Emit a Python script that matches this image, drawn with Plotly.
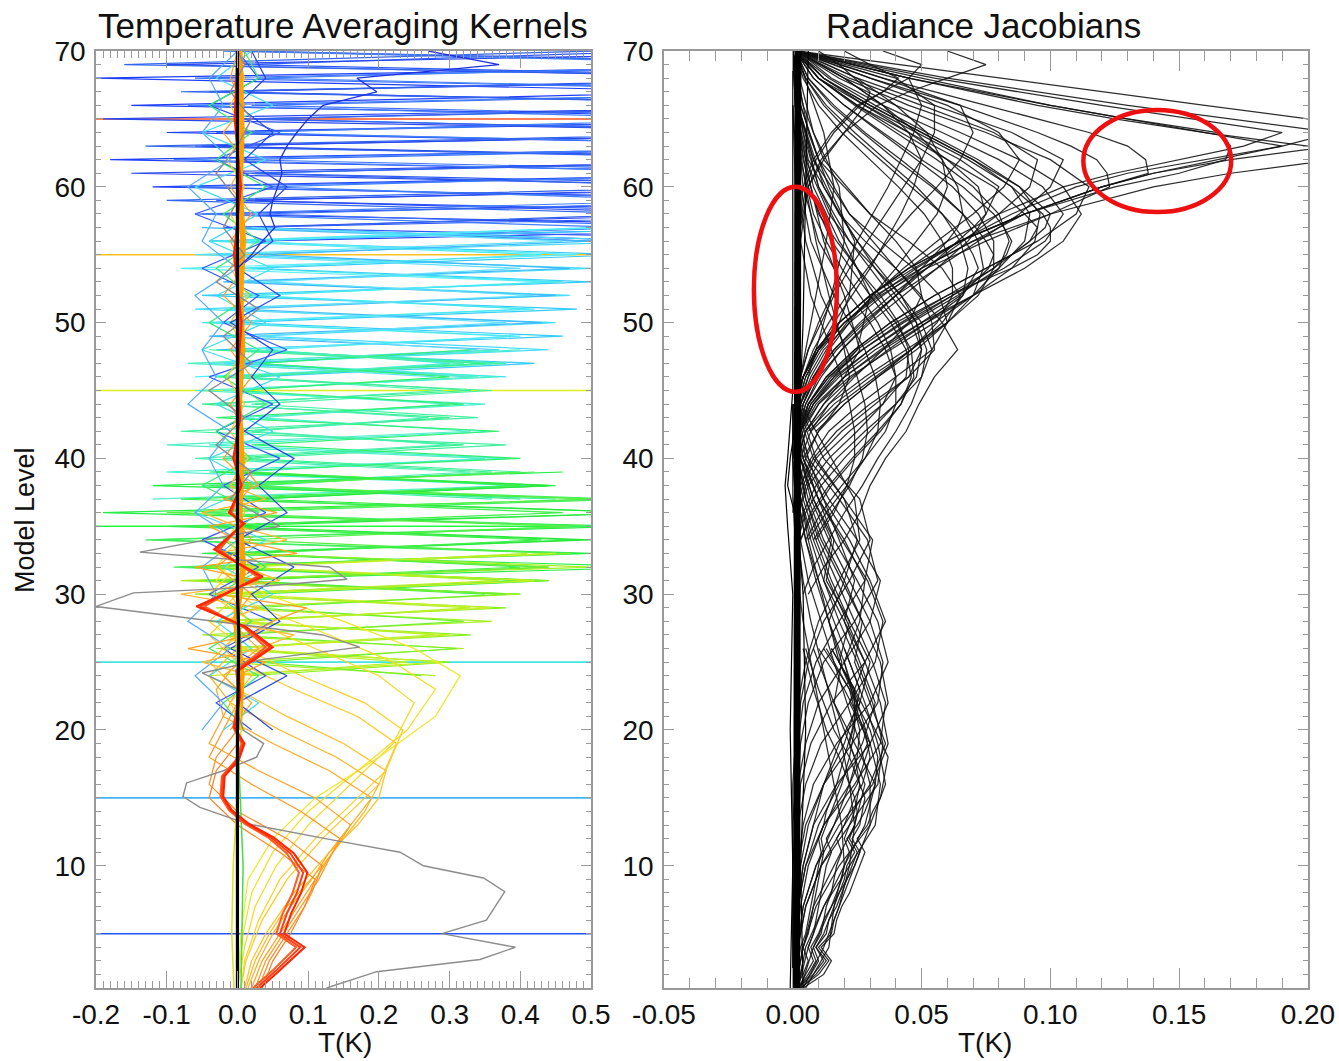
import plotly.graph_objects as go

# ---------------- axis definitions ----------------
LEFT_XRANGE = [-0.2, 0.5]
RIGHT_XRANGE = [-0.05, 0.2]
YRANGE = [1, 70]
left_xticks = [-0.2, -0.1, 0.0, 0.1, 0.2, 0.3, 0.4, 0.5]
left_xticklabels = ["-0.2", "-0.1", "0.0", "0.1", "0.2", "0.3", "0.4", "0.5"]
right_xticks = [-0.05, 0.0, 0.05, 0.10, 0.15, 0.20]
right_xticklabels = ["-0.05", "0.00", "0.05", "0.10", "0.15", "0.20"]
yticks = [10, 20, 30, 40, 50, 60, 70]
yticklabels = ["10", "20", "30", "40", "50", "60", "70"]

# ---------------- LEFT: temperature averaging kernels ----------------
hline_levels = [65, 55, 45, 35, 25, 15, 5]
hline_colors = ["#ff5420", "#ffc21e", "#dcf01e", "#1eff3c", "#40e6e0", "#40b4ff", "#2454ff"]

blue_levels = [56, 57, 58, 59, 60, 61, 62, 63, 64, 65, 66, 67, 68, 69, 70]
blue_colors = ["#1f3fff", "#2d5bff", "#3a70ff", "#2848f0", "#4080ff", "#3366ee"]
blue_x = [
    [0.02, 0.9, -0.05, 0.9, -0.12, 0.8, -0.18, 0.9, -0.1, 0.9, -0.15, 0.7, -0.2, 0.9, 0.0],
    [0.9, 0.0, 0.9, -0.03, 0.9, 0.02, 0.8, -0.06, 0.9, 0.0, 0.9, -0.04, 0.9, 0.01, 0.6],
    [-0.04, 0.7, 0.03, 0.8, -0.08, 0.9, 0.0, 0.9, -0.03, 0.9, 0.02, 0.9, -0.06, 0.9, 0.02],
    [0.6, -0.02, 0.7, 0.01, 0.8, -0.15, 0.9, -0.05, 0.9, -0.19, 0.9, -0.03, 0.8, -0.1, 0.9],
    [0.03, 0.55, -0.06, 0.65, 0.04, 0.75, -0.09, 0.85, 0.0, 0.7, -0.07, 0.9, 0.03, 0.8, -0.02],
    [0.5, 0.02, 0.6, -0.1, 0.7, 0.0, 0.9, -0.13, 0.8, 0.03, 0.9, -0.08, 0.9, -0.16, 0.5],
]

cyan_levels = [46, 47, 48, 49, 50, 51, 52, 53, 54, 55, 56, 57]
cyan_colors = ["#33ccff", "#44ddff", "#55eeff", "#3fb8ff", "#4ae8f0", "#60e0ff"]
cyan_x = [
    [0.02, 0.42, -0.03, 0.46, 0.0, 0.48, -0.05, 0.5, 0.02, 0.55, -0.02, 0.7],
    [0.38, -0.02, 0.44, 0.03, 0.45, -0.06, 0.47, 0.01, 0.5, -0.03, 0.6, 0.0],
    [-0.06, 0.36, 0.0, 0.4, -0.03, 0.42, 0.02, 0.44, -0.08, 0.48, 0.0, 0.52],
    [0.33, 0.01, 0.37, -0.04, 0.43, 0.0, 0.45, -0.02, 0.47, 0.03, 0.5, -0.05],
    [0.0, 0.3, 0.04, 0.39, -0.05, 0.41, 0.01, 0.46, 0.0, 0.43, -0.04, 0.5],
    [0.28, -0.04, 0.34, 0.02, 0.38, -0.02, 0.42, 0.04, 0.4, -0.06, 0.46, 0.02],
]

teal_levels = [37, 38, 39, 40, 41, 42, 43, 44, 45, 46, 47, 48]
teal_colors = ["#44f0d0", "#40f0a0", "#50f0c8", "#38f090", "#30f070", "#48f0b0"]
teal_x = [
    [0.02, 0.42, -0.1, 0.38, -0.04, 0.36, 0.0, 0.35, -0.06, 0.37, 0.02, 0.4],
    [0.45, -0.05, 0.4, 0.01, 0.38, -0.08, 0.34, 0.02, 0.36, -0.03, 0.38, 0.0],
    [-0.12, 0.39, 0.0, 0.35, -0.1, 0.33, 0.03, 0.3, -0.02, 0.34, -0.07, 0.37],
    [0.4, 0.03, 0.36, -0.02, 0.32, 0.0, 0.3, -0.05, 0.33, 0.01, 0.35, -0.04],
    [0.0, 0.44, -0.04, 0.4, 0.02, 0.37, -0.03, 0.32, 0.0, 0.3, 0.03, 0.33],
    [0.36, -0.02, 0.33, -0.06, 0.3, 0.02, 0.27, -0.03, 0.29, 0.0, 0.32, 0.03],
]

green_levels = [30, 31, 32, 33, 34, 35, 36, 37, 38, 39]
green_colors = ["#22ee44", "#33f050", "#44f060", "#2ae83a", "#55f040", "#3cf048"]
green_x = [
    [0.02, 0.44, -0.08, 0.5, -0.12, 0.55, -0.19, 0.52, -0.12, 0.46],
    [0.4, -0.06, 0.6, -0.05, 0.48, -0.1, 0.6, -0.08, 0.45, 0.0],
    [-0.03, 0.42, -0.09, 0.47, -0.13, 0.5, -0.05, 0.55, -0.04, 0.42],
    [0.38, 0.0, 0.44, -0.02, 0.5, -0.03, 0.58, 0.02, 0.44, -0.03],
    [0.0, 0.4, -0.05, 0.45, 0.01, 0.47, -0.1, 0.5, 0.0, 0.4],
    [0.35, -0.04, 0.4, 0.02, 0.43, -0.06, 0.46, -0.02, 0.4, 0.02],
]

ygreen_levels = [24, 25, 26, 27, 28, 29, 30, 31, 32, 33]
ygreen_colors = ["#88f020", "#a8f020", "#c8f020", "#70f030", "#b8f028"]
ygreen_x = [
    [0.02, 0.3, -0.03, 0.33, -0.04, 0.38, -0.06, 0.44, -0.04, 0.47],
    [0.28, -0.02, 0.32, -0.05, 0.36, -0.03, 0.4, -0.08, 0.5, 0.0],
    [-0.04, 0.29, 0.0, 0.3, -0.02, 0.36, 0.0, 0.42, 0.01, 0.45],
    [0.26, 0.03, 0.31, -0.01, 0.32, 0.02, 0.38, -0.02, 0.44, 0.02],
    [0.0, 0.24, -0.02, 0.28, 0.01, 0.33, -0.04, 0.37, 0.0, 0.41],
]

bump_colors = ["#f0e81e", "#f4e01e", "#f8d820", "#ffd020", "#ffc820", "#ffc020",
               "#ffb420", "#ffaa20", "#ffa020", "#ff9820", "#ff8c20", "#ff8020"]
bump_levels = [
    [1, 5, 9, 12, 15, 18, 21, 24, 26, 28, 30, 32, 34],
    [1, 5, 8, 11, 14, 17, 20, 23, 25, 27, 29, 31, 33],
    [1, 4, 7, 10, 13, 16, 19, 22, 24, 26, 28, 30, 32],
    [1, 3, 6, 9, 12, 15, 17, 20, 22, 24, 26, 28, 30],
    [1, 3, 6, 9, 12, 14, 16, 19, 21, 23, 25, 27, 29],
    [1, 3, 5, 8, 11, 13, 15, 17, 19, 21, 23, 25, 27],
    [1, 3, 5, 7, 10, 12, 14, 16, 18, 20, 22, 24, 26],
    [1, 3, 5, 7, 9, 11, 13, 15, 17, 19, 21, 23, 25],
    [1, 3, 5, 7, 9, 11, 13, 15, 17, 19, 21, 23],
    [1, 3, 5, 7, 9, 10, 12, 14, 16, 18, 20, 22],
    [1, 3, 5, 7, 8, 10, 12, 14, 16, 18, 20],
    [1, 3, 5, 7, 9, 11, 13, 15, 17, 19],
]
bump_x = [
    [0.0, 0.005, 0.015, 0.05, 0.11, 0.2, 0.28, 0.315, 0.25, 0.15, 0.04, -0.03, 0.0],
    [0.0, 0.008, 0.02, 0.05, 0.1, 0.17, 0.24, 0.28, 0.22, 0.13, 0.03, -0.03, 0.0],
    [0.0, 0.01, 0.025, 0.055, 0.1, 0.16, 0.22, 0.25, 0.2, 0.11, 0.02, -0.04, 0.0],
    [0.005, 0.01, 0.03, 0.06, 0.11, 0.17, 0.21, 0.234, 0.18, 0.09, 0.01, -0.04, 0.0],
    [0.005, 0.012, 0.035, 0.07, 0.12, 0.16, 0.2, 0.225, 0.17, 0.08, 0.0, -0.04, 0.0],
    [0.01, 0.02, 0.04, 0.08, 0.13, 0.17, 0.2, 0.21, 0.15, 0.07, 0.0, -0.04, 0.0],
    [0.012, 0.025, 0.045, 0.07, 0.12, 0.15, 0.18, 0.2, 0.14, 0.06, -0.01, -0.04, 0.0],
    [0.015, 0.03, 0.05, 0.075, 0.105, 0.13, 0.16, 0.19, 0.13, 0.05, -0.02, -0.03, 0.0],
    [0.02, 0.035, 0.06, 0.085, 0.11, 0.135, 0.16, 0.11, 0.03, -0.04, -0.02, 0.0],
    [0.025, 0.04, 0.065, 0.09, 0.115, 0.125, 0.145, 0.09, 0.02, -0.04, -0.02, 0.0],
    [0.03, 0.045, 0.07, 0.095, 0.105, 0.12, 0.07, 0.0, -0.04, -0.03, 0.0],
    [0.035, 0.05, 0.075, 0.095, 0.11, 0.06, 0.0, -0.04, -0.03, 0.0],
]

core_levels = [20, 22, 24, 26, 28, 30, 32, 34, 36, 38, 40, 42, 44, 46, 48, 50, 52,
               54, 56, 58, 60, 62, 64, 66, 68, 70]
core_colors = ["#3355ff", "#44ddee", "#33ee66", "#ffa020", "#ffd020", "#2244ee", "#55aaff"]
core_x = [
    [0.02, -0.03, 0.04, -0.02, 0.05, -0.04, 0.03, -0.05, 0.04, -0.02, 0.06, -0.03, 0.05,
     -0.04, 0.07, -0.02, 0.03, -0.05, 0.04, -0.06, 0.05, -0.03, 0.06, -0.04, 0.03, 0.0],
    [-0.02, 0.03, -0.04, 0.02, -0.03, 0.05, -0.02, 0.04, -0.06, 0.03, -0.04, 0.05, -0.03,
     0.06, -0.05, 0.04, -0.03, 0.05, -0.04, 0.03, -0.06, 0.04, -0.05, 0.05, -0.03, 0.02],
    [0.01, -0.02, 0.03, -0.04, 0.02, -0.03, 0.04, -0.02, 0.03, -0.05, 0.02, -0.03, 0.04,
     -0.02, 0.03, -0.04, 0.02, -0.03, 0.03, -0.02, 0.04, -0.03, 0.02, -0.04, 0.03, 0.01],
    [-0.01, 0.02, -0.02, 0.03, -0.01, 0.02, -0.03, 0.02, -0.01, 0.02, -0.02, 0.01, -0.01,
     0.02, -0.01, 0.02, -0.02, 0.01, -0.01, 0.02, -0.01, 0.01, -0.02, 0.01, -0.01, 0.0],
    [0.01, -0.01, 0.02, -0.02, 0.015, -0.01, 0.02, -0.015, 0.01, -0.01, 0.015, -0.01, 0.01,
     -0.015, 0.01, -0.01, 0.015, -0.01, 0.01, -0.01, 0.01, -0.015, 0.01, -0.01, 0.01, 0.0],
    [0.05, 0.0, 0.07, -0.01, 0.06, 0.02, 0.08, 0.0, 0.07, 0.03, 0.08, 0.01, 0.06, 0.02,
     0.05, -0.01, 0.06, 0.0, 0.05, 0.03, 0.07, 0.01, 0.05, 0.0, 0.04, 0.02],
    [-0.05, -0.02, -0.06, -0.01, -0.07, -0.03, -0.05, 0.0, -0.06, -0.02, -0.04, -0.01, -0.07,
     -0.03, -0.05, -0.02, -0.06, 0.0, -0.05, -0.03, -0.07, -0.01, -0.05, -0.02, -0.04, 0.0],
]

# fat orange band hugging the centre line
band_levels = [20, 24, 28, 32, 36, 40, 44, 48, 52, 56, 60, 64, 68, 70]
band_x = [0.002, 0.006, -0.002, 0.008, 0.003, 0.006, 0.002, 0.007, 0.004, 0.008, 0.003, 0.006, 0.004, 0.003]

orange_zz_levels = [24, 25, 26, 27, 28, 29, 30, 31, 32, 33, 34, 35, 36, 37, 38, 40]
orange_zz_colors = ["#ffa020", "#ffb830"]
orange_zz_x = [
    [0.0, 0.04, -0.07, 0.02, 0.05, 0.098, -0.03, 0.03, -0.06, 0.084, 0.0, -0.04, 0.056, -0.02, 0.03, 0.0],
    [0.02, -0.05, 0.03, 0.08, -0.02, 0.03, -0.08, 0.06, 0.01, -0.03, 0.07, 0.0, -0.05, 0.04, -0.01, 0.01],
]

dkblue_levels = [54, 55, 56, 57, 58, 59, 60, 61, 62, 63, 64, 65, 66, 67, 68, 69, 70]
dkblue_x = [0.0, 0.02, 0.035, 0.053, 0.046, 0.05, 0.057, 0.063, 0.06, 0.07, 0.084, 0.1,
            0.121, 0.197, 0.169, 0.37, 0.27]

nearzero_levels = [1, 5, 10, 15, 20, 25, 30]
nearzero_colors = ["#e0e020", "#40e040"]
nearzero_x = [
    [-0.005, -0.008, -0.006, 0.0, 0.005, 0.0, 0.0],
    [0.005, 0.006, 0.008, 0.004, 0.0, 0.0, 0.0],
]

gray_levels = [1, 2.2, 3.1, 4, 5, 6, 8.1, 9.1, 10, 11, 11.8, 13.1, 14.3, 15.1, 16.1, 17, 18,
               19, 20, 21.5, 23, 24.2, 25.2, 26.1, 27, 27.6, 29.1, 30.1, 30.5, 31.1, 32,
               33.1, 35, 37, 39, 41, 43, 45, 47, 49, 51, 53, 55, 57, 59, 61, 63, 65, 67, 69, 70]
gray_x = [0.126, 0.197, 0.343, 0.393, 0.289, 0.352, 0.378, 0.348, 0.263, 0.23, 0.145,
          0.013, -0.053, -0.077, -0.072, -0.02, 0.027, 0.037, 0.008, -0.001, 0.0, -0.05,
          0.036, 0.173, 0.121, 0.027, -0.2, -0.147, 0.017, 0.155, 0.13, -0.138, 0.06,
          -0.01, 0.02, -0.03, 0.01, -0.04, 0.02, -0.02, 0.03, -0.03, 0.01, -0.02, 0.0,
          -0.03, 0.0, 0.02, -0.01, 0.01, 0.0]

red_levels = [1, 2.3, 4, 5, 6.5, 8, 9.5, 10.9, 12.1, 13.1, 14.1, 15.1, 16.6, 17.8, 19, 20.2,
              22.5, 24.4, 26.1, 27.6, 29.1, 30.2, 31.3, 32.3, 33.3, 35.2, 36, 38, 40, 43, 46,
              50, 55, 60, 65, 70]
red_colors = ["#ff5a20", "#ff3c12", "#ff2200"]
red_x = [
    [0.022, 0.05, 0.083, 0.055, 0.064, 0.078, 0.087, 0.07, 0.043, 0.01, -0.012, -0.024,
     -0.022, -0.002, 0.006, -0.006, 0.002, -0.002, 0.04, 0.008, -0.047, -0.01, 0.028, 0.0,
     -0.025, 0.006, -0.008, 0.004, -0.004, 0.002, 0.0, 0.004, -0.003, 0.003, -0.002, 0.0],
    [0.027, 0.055, 0.089, 0.06, 0.07, 0.084, 0.093, 0.075, 0.047, 0.013, -0.01, -0.022,
     -0.02, 0.0, 0.008, -0.005, 0.003, 0.0, 0.046, 0.01, -0.053, -0.01, 0.032, 0.0, -0.029,
     0.008, -0.01, 0.005, -0.005, 0.003, 0.0, 0.005, -0.004, 0.004, -0.003, 0.0],
    [0.032, 0.06, 0.095, 0.066, 0.076, 0.09, 0.099, 0.08, 0.051, 0.016, -0.008, -0.02,
     -0.018, 0.002, 0.01, -0.004, 0.004, 0.002, 0.05, 0.012, -0.058, -0.01, 0.036, 0.0,
     -0.033, 0.01, -0.012, 0.006, -0.006, 0.004, 0.0, 0.006, -0.005, 0.005, -0.004, 0.0],
]

black_levels = [1, 10, 20, 27, 30, 40, 50, 60, 70]
black_x = [0.0, 0.0, 0.0, 0.002, 0.0, 0.0, 0.0, 0.0, 0.0]

# ---------------- RIGHT: radiance jacobians ----------------
jac_top_levels = [70, 68, 66, 65, 64, 63, 62, 61, 60, 58, 56, 54, 52, 50, 48, 46, 44]
jac_top = [
    [0.002, 0.08, 0.16, 0.2, 0.23, 0.21, 0.17, 0.14, 0.12, 0.09, 0.07, 0.05, 0.035, 0.022, 0.012, 0.006, 0.002],
    [0.002, 0.06, 0.13, 0.17, 0.21, 0.19, 0.16, 0.13, 0.11, 0.085, 0.065, 0.048, 0.033, 0.02, 0.011, 0.005, 0.002],
    [0.002, 0.055, 0.12, 0.155, 0.19, 0.175, 0.15, 0.125, 0.105, 0.08, 0.06, 0.045, 0.03, 0.018, 0.01, 0.004, 0.002],
    [0.002, 0.05, 0.1, 0.13, 0.16, 0.19, 0.165, 0.14, 0.12, 0.09, 0.065, 0.045, 0.03, 0.018, 0.009, 0.004, 0.001],
    [0.002, 0.045, 0.095, 0.125, 0.16, 0.2, 0.21, 0.17, 0.14, 0.1, 0.07, 0.05, 0.032, 0.02, 0.01, 0.004, 0.001],
    [0.002, 0.045, 0.1, 0.13, 0.165, 0.17, 0.168, 0.15, 0.125, 0.09, 0.065, 0.045, 0.03, 0.018, 0.009, 0.004, 0.001],
    [0.002, 0.035, 0.075, 0.095, 0.115, 0.13, 0.137, 0.138, 0.12, 0.09, 0.065, 0.047, 0.03, 0.018, 0.009, 0.004, 0.001],
    [0.002, 0.03, 0.065, 0.08, 0.095, 0.108, 0.118, 0.122, 0.123, 0.1, 0.075, 0.052, 0.034, 0.02, 0.01, 0.004, 0.001],
]

jac_mid_levels = [70, 68, 66, 64, 62, 60, 58, 57, 56, 55, 54, 52, 50, 48, 46, 44, 42, 40]
jac_mid = [
    [0.001, 0.012, 0.03, 0.05, 0.07, 0.088, 0.1, 0.098, 0.092, 0.085, 0.075, 0.055, 0.038, 0.024, 0.013, 0.006, 0.003, 0.001],
    [0.001, 0.01, 0.025, 0.042, 0.06, 0.078, 0.09, 0.095, 0.092, 0.085, 0.078, 0.06, 0.042, 0.027, 0.015, 0.007, 0.003, 0.001],
    [0.001, 0.008, 0.02, 0.035, 0.05, 0.066, 0.078, 0.082, 0.085, 0.083, 0.078, 0.062, 0.045, 0.03, 0.017, 0.008, 0.003, 0.001],
    [0.001, 0.01, 0.025, 0.045, 0.065, 0.08, 0.075, 0.07, 0.064, 0.058, 0.052, 0.04, 0.028, 0.017, 0.009, 0.004, 0.002, 0.001],
    [0.001, 0.012, 0.028, 0.045, 0.06, 0.072, 0.075, 0.072, 0.068, 0.062, 0.056, 0.043, 0.03, 0.019, 0.01, 0.005, 0.002, 0.001],
    [0.001, 0.006, 0.015, 0.027, 0.04, 0.054, 0.066, 0.071, 0.075, 0.078, 0.076, 0.065, 0.05, 0.034, 0.02, 0.01, 0.004, 0.001],
    [0.001, 0.005, 0.012, 0.022, 0.034, 0.046, 0.058, 0.063, 0.067, 0.07, 0.072, 0.066, 0.052, 0.037, 0.023, 0.012, 0.005, 0.002],
    [0.001, 0.02, 0.035, 0.048, 0.058, 0.064, 0.066, 0.064, 0.06, 0.055, 0.05, 0.04, 0.029, 0.019, 0.011, 0.005, 0.002, 0.001],
    [0.001, 0.025, 0.04, 0.052, 0.058, 0.06, 0.056, 0.052, 0.048, 0.044, 0.04, 0.031, 0.022, 0.014, 0.008, 0.004, 0.002, 0.001],
    [0.001, 0.02, 0.035, 0.045, 0.05, 0.047, 0.042, 0.039, 0.036, 0.033, 0.03, 0.023, 0.016, 0.01, 0.005, 0.002, 0.001, 0.0],
    [0.001, 0.01, 0.028, 0.048, 0.068, 0.085, 0.097, 0.1, 0.1, 0.095, 0.085, 0.06, 0.04, 0.025, 0.014, 0.006, 0.003, 0.001],
]

jac_fan_levels = [70, 68, 66, 64, 62, 60, 58, 56, 54, 52, 50, 48, 46, 44, 42]
jac_fan = [
    [0.002, 0.02, 0.045, 0.075, 0.1, 0.115, 0.11, 0.095, 0.075, 0.055, 0.038, 0.024, 0.013, 0.006, 0.002],
    [0.002, 0.025, 0.055, 0.085, 0.105, 0.1, 0.088, 0.072, 0.056, 0.04, 0.027, 0.016, 0.008, 0.003, 0.001],
    [0.002, 0.015, 0.035, 0.058, 0.08, 0.097, 0.105, 0.098, 0.082, 0.062, 0.043, 0.027, 0.014, 0.006, 0.002],
    [0.002, 0.012, 0.03, 0.05, 0.07, 0.085, 0.092, 0.09, 0.08, 0.064, 0.046, 0.03, 0.016, 0.007, 0.002],
    [0.001, 0.03, 0.06, 0.08, 0.088, 0.082, 0.07, 0.056, 0.043, 0.031, 0.021, 0.013, 0.007, 0.003, 0.001],
    [0.001, 0.035, 0.065, 0.07, 0.065, 0.056, 0.046, 0.037, 0.029, 0.021, 0.014, 0.008, 0.004, 0.002, 0.001],
    [0.001, 0.04, 0.055, 0.055, 0.05, 0.043, 0.036, 0.029, 0.022, 0.016, 0.011, 0.006, 0.003, 0.001, 0.0],
    [0.001, 0.01, 0.024, 0.04, 0.056, 0.07, 0.08, 0.084, 0.08, 0.07, 0.055, 0.038, 0.022, 0.01, 0.003],
    [0.001, 0.008, 0.02, 0.034, 0.048, 0.062, 0.072, 0.078, 0.078, 0.072, 0.06, 0.044, 0.028, 0.014, 0.005],
    [0.001, 0.006, 0.016, 0.028, 0.042, 0.055, 0.066, 0.072, 0.074, 0.07, 0.06, 0.046, 0.03, 0.016, 0.006],
    [0.001, 0.005, 0.013, 0.024, 0.036, 0.048, 0.058, 0.065, 0.068, 0.066, 0.058, 0.046, 0.032, 0.018, 0.007],
    [0.001, 0.004, 0.01, 0.019, 0.03, 0.041, 0.051, 0.058, 0.062, 0.062, 0.056, 0.046, 0.033, 0.02, 0.009],
    [0.001, 0.018, 0.04, 0.065, 0.088, 0.105, 0.112, 0.105, 0.09, 0.07, 0.05, 0.032, 0.018, 0.008, 0.002],
    [0.001, 0.022, 0.05, 0.078, 0.095, 0.092, 0.08, 0.066, 0.052, 0.038, 0.026, 0.016, 0.008, 0.003, 0.001],
    [0.001, 0.014, 0.032, 0.052, 0.072, 0.088, 0.096, 0.094, 0.085, 0.07, 0.052, 0.035, 0.02, 0.009, 0.003],
    [0.001, 0.045, 0.05, 0.047, 0.042, 0.037, 0.031, 0.025, 0.02, 0.015, 0.01, 0.006, 0.003, 0.001, 0.0],
]

jac_low_levels = [70, 66, 62, 58, 56, 54, 52, 50, 48, 46, 44, 42, 40, 38, 36]
jac_low = [
    [0.0, 0.003, 0.01, 0.03, 0.045, 0.058, 0.065, 0.06, 0.048, 0.033, 0.02, 0.01, 0.005, 0.002, 0.001],
    [0.0, 0.002, 0.008, 0.022, 0.034, 0.047, 0.057, 0.06, 0.054, 0.04, 0.026, 0.014, 0.007, 0.003, 0.001],
    [0.0, 0.002, 0.006, 0.018, 0.028, 0.04, 0.05, 0.054, 0.055, 0.045, 0.03, 0.017, 0.008, 0.003, 0.001],
    [0.0, 0.001, 0.005, 0.014, 0.022, 0.032, 0.042, 0.048, 0.05, 0.045, 0.032, 0.019, 0.009, 0.004, 0.001],
    [0.0, 0.001, 0.004, 0.01, 0.017, 0.025, 0.034, 0.041, 0.045, 0.044, 0.035, 0.022, 0.011, 0.005, 0.002],
    [0.0, 0.004, 0.012, 0.03, 0.04, 0.048, 0.05, 0.045, 0.035, 0.024, 0.014, 0.007, 0.003, 0.001, 0.0],
    [0.0, 0.001, 0.003, 0.008, 0.013, 0.019, 0.026, 0.033, 0.038, 0.04, 0.035, 0.025, 0.014, 0.006, 0.002],
]

jac_low2_levels = [66, 60, 56, 52, 50, 48, 46, 44, 42, 40, 38, 36, 34]
jac_low2 = [
    [0.001, 0.006, 0.015, 0.03, 0.038, 0.044, 0.046, 0.042, 0.034, 0.024, 0.015, 0.008, 0.003],
    [0.001, 0.004, 0.01, 0.022, 0.03, 0.036, 0.04, 0.04, 0.036, 0.028, 0.019, 0.011, 0.005],
    [0.001, 0.003, 0.007, 0.016, 0.022, 0.028, 0.032, 0.034, 0.033, 0.028, 0.021, 0.013, 0.006],
    [0.0, 0.002, 0.005, 0.011, 0.016, 0.021, 0.025, 0.028, 0.029, 0.027, 0.022, 0.015, 0.008],
    [0.0, 0.001, 0.003, 0.007, 0.011, 0.015, 0.019, 0.022, 0.024, 0.024, 0.021, 0.016, 0.009],
    [0.002, 0.012, 0.025, 0.042, 0.05, 0.054, 0.05, 0.04, 0.028, 0.017, 0.009, 0.004, 0.002],
    [0.002, 0.01, 0.022, 0.038, 0.046, 0.05, 0.048, 0.04, 0.03, 0.02, 0.011, 0.005, 0.002],
    [0.001, 0.008, 0.018, 0.032, 0.04, 0.046, 0.047, 0.042, 0.033, 0.023, 0.014, 0.007, 0.003],
]

jac_steep_levels = [70, 64, 60, 56, 52, 48, 46, 44, 42, 40]
jac_steep = [
    [0.0, 0.004, 0.01, 0.02, 0.03, 0.025, 0.016, 0.008, 0.003, 0.001],
    [0.0, 0.006, 0.014, 0.024, 0.022, 0.014, 0.009, 0.004, 0.002, 0.0],
    [0.0, 0.003, 0.007, 0.012, 0.02, 0.026, 0.02, 0.012, 0.005, 0.002],
    [0.0, 0.008, 0.018, 0.02, 0.015, 0.009, 0.006, 0.003, 0.001, 0.0],
    [0.0, 0.002, 0.005, 0.009, 0.014, 0.02, 0.022, 0.018, 0.01, 0.004],
    [0.001, 0.012, 0.016, 0.013, 0.009, 0.005, 0.003, 0.002, 0.001, 0.0],
]

jac_tail_levels = [70, 66, 62, 58, 54, 50, 48, 46, 44, 42, 40, 38, 36, 34, 32, 30]
jac_tail = [
    [0.0, 0.003, 0.01, 0.022, 0.04, 0.058, 0.064, 0.055, 0.049, 0.044, 0.036, 0.03, 0.026, 0.02, 0.012, 0.006],
    [0.0, 0.002, 0.008, 0.018, 0.032, 0.048, 0.052, 0.05, 0.046, 0.04, 0.033, 0.027, 0.02, 0.014, 0.008, 0.004],
]

jac_mesh_levels = [44, 40, 37, 34, 31, 28, 25, 22, 19, 16, 13, 10, 7, 4, 1]
jac_mesh = [
    [0.002, 0.012, 0.026, 0.03, 0.022, 0.012, 0.006, 0.003, 0.002, 0.001, 0.001, 0.0, 0.0, 0.0, 0.0],
    [0.001, 0.006, 0.018, 0.029, 0.033, 0.024, 0.012, 0.006, 0.003, 0.002, 0.001, 0.001, 0.0, 0.0, 0.0],
    [0.001, 0.004, 0.012, 0.022, 0.03, 0.036, 0.028, 0.015, 0.007, 0.003, 0.002, 0.001, 0.0, 0.0, 0.0],
    [0.0, 0.003, 0.008, 0.016, 0.025, 0.033, 0.037, 0.03, 0.017, 0.008, 0.004, 0.002, 0.001, 0.0, 0.0],
    [0.0, 0.002, 0.005, 0.011, 0.019, 0.027, 0.034, 0.037, 0.03, 0.017, 0.008, 0.004, 0.002, 0.001, 0.0],
    [0.0, 0.001, 0.003, 0.008, 0.014, 0.021, 0.028, 0.034, 0.037, 0.031, 0.018, 0.009, 0.004, 0.002, 0.001],
    [0.0, 0.001, 0.002, 0.005, 0.01, 0.016, 0.022, 0.028, 0.033, 0.036, 0.03, 0.018, 0.009, 0.004, 0.001],
    [0.0, 0.0, 0.001, 0.003, 0.006, 0.011, 0.016, 0.021, 0.026, 0.03, 0.03, 0.024, 0.015, 0.008, 0.003],
    [0.0, 0.0, 0.001, 0.002, 0.004, 0.007, 0.011, 0.015, 0.019, 0.022, 0.024, 0.022, 0.018, 0.012, 0.004],
    [0.0, 0.0, 0.0, 0.001, 0.002, 0.004, 0.007, 0.01, 0.013, 0.016, 0.019, 0.02, 0.016, 0.014, 0.005],
    [0.001, 0.008, 0.02, 0.025, 0.02, 0.014, 0.018, 0.025, 0.02, 0.012, 0.006, 0.003, 0.001, 0.0, 0.0],
    [0.0, 0.003, 0.01, 0.02, 0.028, 0.026, 0.02, 0.024, 0.029, 0.022, 0.012, 0.006, 0.003, 0.001, 0.0],
    [0.003, 0.015, 0.024, 0.026, 0.018, 0.01, 0.005, 0.002, 0.001, 0.0, 0.0, 0.0, 0.0, 0.0, 0.0],
    [0.002, 0.009, 0.02, 0.031, 0.028, 0.018, 0.009, 0.004, 0.002, 0.001, 0.0, 0.0, 0.0, 0.0, 0.0],
    [0.001, 0.005, 0.014, 0.025, 0.034, 0.03, 0.02, 0.01, 0.005, 0.002, 0.001, 0.0, 0.0, 0.0, 0.0],
    [0.001, 0.004, 0.01, 0.019, 0.029, 0.035, 0.032, 0.022, 0.011, 0.005, 0.002, 0.001, 0.0, 0.0, 0.0],
    [0.0, 0.003, 0.007, 0.014, 0.022, 0.03, 0.035, 0.033, 0.023, 0.012, 0.005, 0.002, 0.001, 0.0, 0.0],
    [0.0, 0.002, 0.005, 0.01, 0.017, 0.024, 0.031, 0.036, 0.034, 0.024, 0.012, 0.005, 0.002, 0.001, 0.0],
    [0.0, 0.001, 0.003, 0.007, 0.012, 0.018, 0.025, 0.031, 0.035, 0.033, 0.022, 0.011, 0.005, 0.002, 0.001],
    [0.0, 0.001, 0.002, 0.005, 0.009, 0.014, 0.02, 0.025, 0.03, 0.034, 0.032, 0.022, 0.012, 0.005, 0.002],
    [0.001, 0.006, 0.012, 0.018, 0.024, 0.02, 0.026, 0.032, 0.027, 0.018, 0.01, 0.005, 0.002, 0.001, 0.0],
    [0.0, 0.002, 0.006, 0.012, 0.02, 0.027, 0.024, 0.03, 0.036, 0.03, 0.02, 0.011, 0.005, 0.002, 0.001],
    [0.001, 0.003, 0.008, 0.015, 0.012, 0.02, 0.028, 0.022, 0.03, 0.025, 0.016, 0.009, 0.004, 0.002, 0.001],
    [0.0, 0.001, 0.004, 0.009, 0.015, 0.022, 0.018, 0.026, 0.022, 0.028, 0.024, 0.016, 0.008, 0.004, 0.001],
    [0.0, 0.004, 0.01, 0.016, 0.013, 0.022, 0.03, 0.026, 0.018, 0.012, 0.008, 0.004, 0.002, 0.001, 0.0],
    [0.0, 0.001, 0.003, 0.006, 0.01, 0.014, 0.019, 0.016, 0.024, 0.032, 0.028, 0.02, 0.012, 0.006, 0.002],
]

jac_bottom_levels = [1, 2, 3, 4, 5, 6, 7, 8, 9, 10, 11, 12, 13, 14, 15, 16, 18, 20, 23, 26]
jac_bottom = [
    [0.004, 0.012, 0.015, 0.011, 0.016, 0.017, 0.019, 0.022, 0.024, 0.026, 0.028, 0.025, 0.029, 0.031, 0.034, 0.035, 0.037, 0.032, 0.024, 0.015],
    [0.003, 0.009, 0.013, 0.009, 0.013, 0.014, 0.016, 0.018, 0.02, 0.021, 0.024, 0.021, 0.025, 0.028, 0.03, 0.032, 0.033, 0.03, 0.022, 0.013],
    [0.002, 0.007, 0.01, 0.008, 0.011, 0.012, 0.013, 0.015, 0.016, 0.017, 0.019, 0.017, 0.02, 0.022, 0.024, 0.027, 0.03, 0.028, 0.02, 0.01],
    [0.002, 0.005, 0.008, 0.006, 0.008, 0.009, 0.01, 0.011, 0.012, 0.013, 0.015, 0.013, 0.016, 0.018, 0.02, 0.022, 0.025, 0.026, 0.022, 0.012],
    [0.001, 0.004, 0.006, 0.004, 0.006, 0.007, 0.008, 0.009, 0.01, 0.011, 0.012, 0.011, 0.013, 0.015, 0.017, 0.019, 0.022, 0.024, 0.024, 0.015],
    [0.002, 0.006, 0.009, 0.007, 0.01, 0.012, 0.015, 0.017, 0.019, 0.02, 0.022, 0.02, 0.022, 0.024, 0.025, 0.026, 0.024, 0.02, 0.014, 0.008],
    [0.003, 0.01, 0.014, 0.01, 0.015, 0.016, 0.018, 0.02, 0.022, 0.024, 0.026, 0.023, 0.026, 0.027, 0.028, 0.026, 0.022, 0.016, 0.01, 0.005],
    [0.001, 0.003, 0.004, 0.003, 0.005, 0.006, 0.007, 0.008, 0.009, 0.01, 0.011, 0.01, 0.012, 0.013, 0.015, 0.017, 0.02, 0.023, 0.026, 0.02],
    [0.002, 0.008, 0.012, 0.009, 0.012, 0.014, 0.017, 0.019, 0.021, 0.023, 0.025, 0.022, 0.024, 0.025, 0.024, 0.022, 0.018, 0.013, 0.008, 0.004],
]

jac_ptop_levels = [70, 69, 68, 67, 66, 64, 62, 60, 56, 52]
jac_ptop = [
    [0.02, 0.03, 0.041, 0.035, 0.025, 0.015, 0.008, 0.004, 0.002, 0.001],
    [0.035, 0.05, 0.045, 0.035, 0.026, 0.016, 0.009, 0.005, 0.002, 0.001],
    [0.06, 0.075, 0.06, 0.045, 0.033, 0.02, 0.011, 0.006, 0.002, 0.001],
    [0.01, 0.018, 0.024, 0.03, 0.028, 0.02, 0.012, 0.006, 0.003, 0.001],
]

jac_zero_levels = [1, 10, 20, 30, 35, 38, 40, 45, 50, 60, 70]
jac_zero_widths = [7, 1.2, 1.2]
jac_zero = [
    [0.0015, 0.0015, 0.0015, 0.0015, 0.0015, 0.0015, 0.0015, 0.0015, 0.0015, 0.0015, 0.002],
    [0.004, 0.003, 0.005, 0.004, 0.002, -0.002, -0.001, 0.003, 0.004, 0.005, 0.006],
    [-0.001, 0.0, -0.001, 0.0, -0.002, -0.003, -0.002, 0.0, 0.0, 0.0, 0.0],
]

ell_cx = [0.1415, 0.001]
ell_cy = [61.9, 52.45]
ell_rx = [0.0287, 0.0161]
ell_ry = [3.76, 7.55]

# ---------------- build figure ----------------
fig = go.Figure()


def add(xs, ys, color, width, xa="x", ya="y", opacity=1.0):
    fig.add_trace(go.Scatter(x=xs, y=ys, mode="lines", line=dict(color=color, width=width),
                             xaxis=xa, yaxis=ya, showlegend=False, hoverinfo="skip",
                             opacity=opacity))


for lvl, col in zip(hline_levels, hline_colors):
    add(LEFT_XRANGE, [lvl, lvl], col, 1.6)

for group_levels, group_x, group_cols in [
    (blue_levels, blue_x, blue_colors),
    (cyan_levels, cyan_x, cyan_colors),
    (teal_levels, teal_x, teal_colors),
    (green_levels, green_x, green_colors),
    (ygreen_levels, ygreen_x, ygreen_colors),
]:
    for xs, col in zip(group_x, group_cols):
        add(xs, group_levels, col, 1.2)

for lv, xs, col in zip(bump_levels, bump_x, bump_colors):
    add(xs, lv, col, 1.2)

for xs, col in zip(core_x, core_colors):
    add(xs, core_levels, col, 1.2)

for xs, col in zip(orange_zz_x, orange_zz_colors):
    add(xs, orange_zz_levels, col, 1.3)

add(band_x, band_levels, "#ffa000", 6)

add(dkblue_x, dkblue_levels, "#2030dd", 1.3)

for xs, col in zip(nearzero_x, nearzero_colors):
    add(xs, nearzero_levels, col, 1.5)

add(gray_x, gray_levels, "#8c8c8c", 1.4)

for xs, col in zip(red_x, red_colors):
    add(xs, red_levels, col, 2.0)

add(black_x, black_levels, "#000000", 3.2)

# right panel
JAC_COLOR = "#111111"
for lv, group in [(jac_top_levels, jac_top), (jac_mid_levels, jac_mid),
                  (jac_fan_levels, jac_fan), (jac_low_levels, jac_low),
                  (jac_low2_levels, jac_low2), (jac_steep_levels, jac_steep),
                  (jac_tail_levels, jac_tail),
                  (jac_mesh_levels, jac_mesh), (jac_bottom_levels, jac_bottom),
                  (jac_ptop_levels, jac_ptop)]:
    for xs in group:
        add(xs, lv, JAC_COLOR, 1.25, "x2", "y2", 0.88)
for xs, w in zip(jac_zero, jac_zero_widths):
    add(xs, jac_zero_levels, "#000000", w, "x2", "y2")

shapes = []
for cx, cy, rx, ry in zip(ell_cx, ell_cy, ell_rx, ell_ry):
    shapes.append(dict(type="circle", xref="x2", yref="y2", x0=cx - rx, x1=cx + rx,
                       y0=cy - ry, y1=cy + ry, line=dict(color="#ee1010", width=4.5)))

FONT = "Liberation Sans, Arial, Helvetica, sans-serif"
AXC = "#999999"


def xaxis_cfg(domain, rng, tv, tt, anchor, majlen, minlen):
    return dict(domain=domain, range=rng, tickmode="array", tickvals=tv, ticktext=tt,
                ticks="inside", ticklen=majlen, tickwidth=1.2, tickcolor=AXC,
                minor=dict(ticks="inside", ticklen=minlen, tickmode="linear", tick0=0,
                           dtick=0.01, tickcolor=AXC, tickwidth=1),
                showline=True, linecolor=AXC, linewidth=1.5, mirror="allticks",
                showgrid=False, zeroline=False, anchor=anchor, automargin=False,
                tickfont=dict(family=FONT, size=28, color="#111"), ticklabelstandoff=1)


def yaxis_cfg(domain, anchor):
    return dict(domain=domain, range=YRANGE, tickmode="array", tickvals=yticks,
                ticktext=yticklabels, ticks="inside", ticklen=10, tickwidth=1.2,
                tickcolor=AXC,
                minor=dict(ticks="inside", ticklen=5, tickmode="linear", tick0=0, dtick=1,
                           tickcolor=AXC, tickwidth=1),
                showline=True, linecolor=AXC, linewidth=1.5, mirror="allticks",
                showgrid=False, zeroline=False, anchor=anchor, automargin=False,
                tickfont=dict(family=FONT, size=28, color="#111"), ticklabelstandoff=3)


# the page body margin is removed (post_script) so the figure fills the window exactly
YDOM = [0.0688, 0.9519]
fig.update_layout(
    width=1339, height=1061,
    margin=dict(l=0, r=0, t=0, b=0, autoexpand=False),
    paper_bgcolor="white", plot_bgcolor="white",
    xaxis=xaxis_cfg([0.0717, 0.4414], LEFT_XRANGE, left_xticks, left_xticklabels, "y", 17, 7),
    yaxis=yaxis_cfg(YDOM, "x"),
    xaxis2=xaxis_cfg([0.4959, 0.9768], RIGHT_XRANGE, right_xticks, right_xticklabels, "y2", 20, 10),
    yaxis2=yaxis_cfg(YDOM, "x2"),
    shapes=shapes,
    annotations=[
        dict(text="Temperature Averaging Kernels", x=0.2565, y=0.9764, xref="paper", yref="paper",
             showarrow=False, xanchor="center", yanchor="middle",
             font=dict(family=FONT, size=35, color="#111")),
        dict(text="Radiance Jacobians", x=0.7345, y=0.9764, xref="paper", yref="paper",
             showarrow=False, xanchor="center", yanchor="middle",
             font=dict(family=FONT, size=35, color="#111")),
        dict(text="T(K)", x=0.2577, y=0.0175, xref="paper", yref="paper", showarrow=False,
             xanchor="center", yanchor="middle", font=dict(family=FONT, size=28, color="#111")),
        dict(text="T(K)", x=0.7356, y=0.0175, xref="paper", yref="paper", showarrow=False,
             xanchor="center", yanchor="middle", font=dict(family=FONT, size=28, color="#111")),
        dict(text="Model Level", x=0.0187, y=0.5099, xref="paper", yref="paper",
             showarrow=False, textangle=-90, xanchor="center", yanchor="middle",
             font=dict(family=FONT, size=27, color="#111")),
    ],
)

fig.write_html(
    "out.html",
    config={"displayModeBar": False},
    post_script="document.body.style.margin='0';document.body.style.overflow='hidden';",
)
